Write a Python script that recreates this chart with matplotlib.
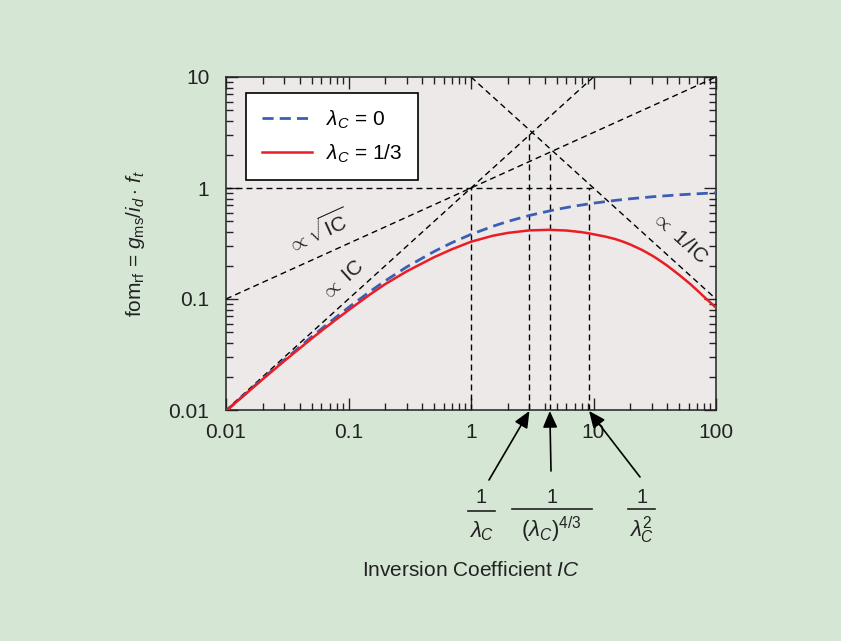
import matplotlib
matplotlib.use('Agg')
import matplotlib.pyplot as plt
from matplotlib.lines import Line2D
from matplotlib.ticker import FixedLocator, FixedFormatter, NullFormatter, LogLocator

plt.rcParams['font.family'] = ['Liberation Sans', 'DejaVu Sans']
plt.rcParams['mathtext.fontset'] = 'custom'
plt.rcParams['mathtext.rm'] = 'Liberation Sans'
plt.rcParams['mathtext.it'] = 'Liberation Sans:italic'
plt.rcParams['mathtext.bf'] = 'Liberation Sans:bold'

# krivulje ocitane sa slike (IC, fom)
ic_blue = [0.01, 0.02, 0.03, 0.05, 0.07, 0.1, 0.15, 0.2, 0.3, 0.5, 0.7, 1,
           1.5, 2, 3, 5, 7, 10, 15, 20, 30, 50, 70, 100]
fom_blue = [0.0098, 0.0192, 0.0283, 0.0456, 0.0616, 0.0839, 0.117, 0.146,
            0.195, 0.268, 0.322, 0.382, 0.451, 0.500, 0.566, 0.642, 0.687,
            0.730, 0.773, 0.800, 0.833, 0.868, 0.887, 0.905]

ic_red = [0.01, 0.02, 0.03, 0.05, 0.07, 0.1, 0.15, 0.2, 0.3, 0.5, 0.7, 1,
          1.5, 2, 3, 4.33, 6, 8, 9.3, 10, 12.5, 15, 17.5, 20, 25, 30, 32.8,
          40, 50, 61.4, 70, 80, 100]
fom_red = [0.0098, 0.0190, 0.0277, 0.0440, 0.0589, 0.0793, 0.110, 0.1365,
           0.178, 0.238, 0.281, 0.328, 0.371, 0.394, 0.415, 0.420, 0.414,
           0.400, 0.389, 0.383, 0.365, 0.347, 0.328, 0.3095, 0.276, 0.2466,
           0.232, 0.1997, 0.165, 0.137, 0.120, 0.1045, 0.0835]

# asimptote
asim_ic_x = [0.01, 10]
asim_ic_y = [0.01, 10]
asim_sqrt_x = [0.01, 100]
asim_sqrt_y = [0.1, 10]
asim_inv_x = [1, 100]
asim_inv_y = [10, 0.1]
horiz_x = [0.01, 10]
horiz_y = [1, 1]
vert_x = [1, 3, 4.4, 9.2]
vert_top = [1, 3.1, 2.1, 1]

tick_vals = [0.01, 0.1, 1, 10, 100]
xtick_labels = ['0.01', '0.1', '1', '10', '100']
ytick_vals = [0.01, 0.1, 1, 10]
ytick_labels = ['0.01', '0.1', '1', '10']

bg = '#d5e6d5'
face = '#ede9e9'
blue = '#3a5fb4'
red = '#ec1c24'
ink = '#222222'

W, H = 841, 641
fig = plt.figure(figsize=(W / 100, H / 100), dpi=100, facecolor=bg)
ax = fig.add_axes([226 / W, 1 - 410 / H, 490 / W, 333 / H])
ax.set_facecolor(face)
ax.set_xscale('log')
ax.set_yscale('log')
ax.set_xlim(0.01, 100)
ax.set_ylim(0.01, 10)

crt = dict(color='black', lw=1.0, linestyle=(0, (4.3, 2.9)))
ax.plot(asim_ic_x, asim_ic_y, **crt)
ax.plot(asim_sqrt_x, asim_sqrt_y, **crt)
ax.plot(asim_inv_x, asim_inv_y, **crt)
ax.plot(horiz_x, horiz_y, **crt)
for x, top in zip(vert_x, vert_top):
    ax.plot([x, x], [0.01, top], **crt)

ax.plot(ic_blue, fom_blue, color=blue, lw=2.0, linestyle=(0, (4, 2.2)),
        label=r'$\lambda_C$ = 0', zorder=4)
ax.plot(ic_red, fom_red, color=red, lw=1.8, label=r'$\lambda_C$ = 1/3', zorder=5)

leg = ax.legend(loc='upper left', bbox_to_anchor=(0.041, 0.952),
                borderaxespad=0, fontsize=15, fancybox=False, framealpha=1,
                edgecolor='black', borderpad=0.75, labelspacing=0.55,
                handlelength=2.4, handletextpad=0.7)
leg.get_frame().set_linewidth(1.2)

ax.xaxis.set_major_locator(FixedLocator(tick_vals))
ax.xaxis.set_major_formatter(FixedFormatter(xtick_labels))
ax.yaxis.set_major_locator(FixedLocator(ytick_vals))
ax.yaxis.set_major_formatter(FixedFormatter(ytick_labels))
for a in (ax.xaxis, ax.yaxis):
    a.set_minor_locator(LogLocator(base=10, subs=range(2, 10)))
    a.set_minor_formatter(NullFormatter())
ax.tick_params(which='both', direction='in', top=True, right=True,
               width=1.0, labelsize=15, colors=ink)
ax.tick_params(which='major', length=8.5)
ax.tick_params(which='minor', length=5)
ax.tick_params(axis='x', pad=9)
ax.tick_params(axis='y', pad=12)
for s in ax.spines.values():
    s.set_linewidth(1.1)
    s.set_color(ink)

ax.text(0.188, 0.535, r'$\propto\sqrt{\rm IC}$', transform=ax.transAxes,
        rotation=24.4, rotation_mode='anchor', ha='center', va='center',
        fontsize=15, color=ink)
ax.text(0.239, 0.39, r'$\propto$ IC', transform=ax.transAxes,
        rotation=42.2, rotation_mode='anchor', ha='center', va='center',
        fontsize=15, color=ink)
ax.text(0.925, 0.517, r'$\propto$ 1/IC', transform=ax.transAxes,
        rotation=-42.2, rotation_mode='anchor', ha='center', va='center',
        fontsize=15, color=ink)

ax.set_ylabel(r'fom$_{\rm rf}$ = $g_{\rm ms}/i_d\cdot\,f_t$', fontsize=15,
              color=ink)
ax.yaxis.set_label_coords(-0.161, 0.5)
ax.set_xlabel(r'Inversion Coefficient $IC$', fontsize=15, color=ink)
ax.xaxis.set_label_coords(0.5, -0.453)

# razlomci ispod osi: brojnik, razlomacka crta, nazivnik
nazivnici = [r'$\lambda_C$', r'($\lambda_C$)$^{4/3}$', r'$\lambda_C^2$']
raz_cx = [481.5, 551.7, 641.7]
raz_crta_y = [510.7, 509.3, 509]
raz_sirina = [27, 80, 27]
for naz, cx, cy, w in zip(nazivnici, raz_cx, raz_crta_y, raz_sirina):
    fig.text(cx / W, 1 - 503 / H, '1', ha='center', va='baseline',
             fontsize=14.5, color=ink)
    fig.text(cx / W, 1 - 537 / H, naz, ha='center', va='baseline',
             fontsize=16, color=ink)
    fig.add_artist(Line2D([(cx - w / 2) / W, (cx + w / 2) / W],
                          [1 - cy / H, 1 - cy / H], color=ink, lw=1.2,
                          transform=fig.transFigure))

rep = [(489, 480), (551, 471), (640, 477)]
for x, (px, py) in zip([3, 4.4, 9.2], rep):
    ax.annotate('', xy=(x, 0.0098), xycoords='data',
                xytext=(px, H - py), textcoords='figure pixels',
                annotation_clip=False,
                arrowprops=dict(arrowstyle='-|>,head_length=0.5,head_width=0.22',
                                color='black', lw=1.2,
                                mutation_scale=20, shrinkA=0, shrinkB=0))

fig.savefig('out.png', dpi=100, facecolor=bg)
